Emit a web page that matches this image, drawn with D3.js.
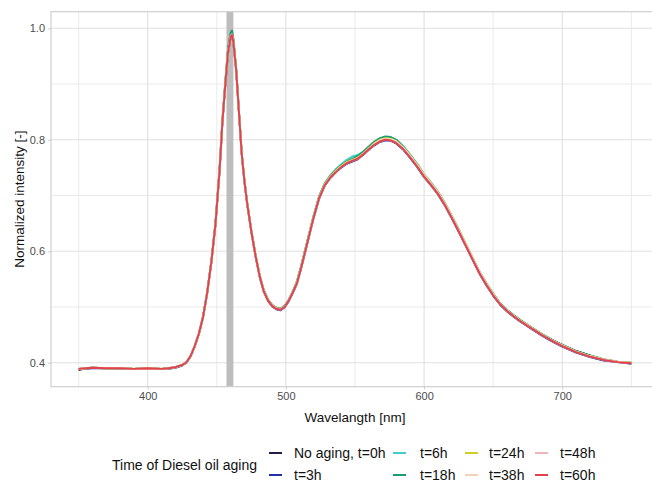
<!DOCTYPE html>
<html><head><meta charset="utf-8">
<script src="https://cdn.jsdelivr.net/npm/d3@7"></script>
<style>body{margin:0;background:#fff}svg{display:block;font-family:"Liberation Sans",Arial,sans-serif}</style>
</head><body>
<svg id="c" width="652" height="483"></svg>
<script>
const wavelength = [350,355,360,370,380,390,400,410,415,420,425,428,431,434,437,440,443,446,449,452,454,456,458,460,461,462,464,466,468,470,472,475,478,481,484,487,490,493,496,499,502,505,508,511,514,517,520,524,528,532,536,540,544,548,552,556,560,564,568,572,576,580,585,590,595,600,605,610,615,620,625,630,635,640,645,650,655,660,665,670,675,680,685,690,695,700,710,720,730,740,750];

const t0h  = [.387,.390,.391,.390,.390,.389,.390,.389,.390,.392,.396,.401,.412,.430,.452,.482,.525,.580,.648,.745,.830,.895,.955,.986,.990,.976,.926,.851,.776,.726,.686,.636,.593,.556,.529,.513,.503,.498,.496,.501,.512,.527,.544,.571,.601,.631,.661,.696,.719,.733,.743,.752,.759,.763,.767,.775,.784,.792,.798,.801,.800,.795,.784,.769,.753,.735,.720,.704,.684,.661,.637,.612,.587,.562,.541,.522,.506,.494,.484,.475,.467,.459,.451,.444,.438,.432,.421,.413,.406,.402,.399];
const t3h  = [.389,.389,.390,.390,.389,.389,.389,.389,.389,.391,.395,.400,.411,.429,.451,.481,.524,.579,.647,.744,.829,.894,.954,.984,.987,.974,.924,.849,.774,.724,.684,.634,.591,.554,.527,.511,.501,.496,.494,.499,.510,.525,.542,.569,.599,.629,.659,.694,.717,.731,.741,.750,.757,.761,.765,.773,.782,.790,.796,.799,.798,.793,.782,.767,.751,.733,.718,.702,.682,.659,.635,.610,.585,.560,.539,.520,.504,.492,.482,.473,.465,.457,.449,.442,.435,.429,.418,.410,.404,.401,.398];
const t6h  = [.389,.390,.391,.390,.390,.389,.390,.389,.390,.392,.396,.401,.412,.430,.452,.482,.526,.581,.650,.748,.833,.899,.960,.990,.992,.978,.927,.851,.776,.726,.686,.636,.593,.556,.529,.513,.503,.498,.496,.501,.512,.528,.546,.574,.604,.634,.664,.699,.722,.736,.747,.756,.764,.770,.773,.778,.786,.793,.799,.803,.802,.796,.785,.770,.754,.736,.721,.705,.685,.662,.638,.613,.588,.563,.542,.523,.506,.494,.484,.475,.467,.459,.451,.444,.437,.431,.420,.412,.406,.402,.400];
const t18h = [.389,.390,.391,.390,.390,.389,.390,.389,.390,.392,.396,.401,.412,.430,.452,.482,.526,.582,.651,.749,.835,.901,.962,.992,.996,.982,.929,.852,.777,.727,.687,.637,.594,.557,.530,.514,.504,.499,.497,.502,.513,.528,.546,.573,.603,.633,.663,.698,.721,.735,.745,.754,.761,.766,.771,.779,.788,.797,.803,.806,.805,.800,.788,.773,.757,.738,.723,.707,.687,.664,.640,.614,.589,.564,.543,.524,.507,.495,.485,.476,.468,.460,.452,.445,.438,.432,.421,.413,.406,.402,.400];
const t24h = [.389,.390,.391,.390,.390,.389,.390,.389,.390,.392,.396,.401,.412,.430,.452,.482,.525,.580,.648,.746,.831,.896,.956,.986,.989,.976,.926,.851,.776,.726,.686,.636,.593,.556,.529,.513,.503,.498,.496,.501,.512,.527,.545,.572,.602,.632,.662,.697,.720,.734,.744,.753,.760,.764,.768,.776,.785,.794,.800,.803,.802,.797,.786,.771,.755,.737,.722,.706,.686,.663,.638,.614,.589,.563,.542,.523,.506,.494,.484,.475,.467,.459,.451,.444,.437,.431,.420,.412,.406,.402,.400];
const t38h = [.389,.390,.391,.390,.390,.389,.390,.389,.390,.392,.396,.401,.412,.430,.452,.482,.525,.580,.648,.746,.831,.896,.956,.986,.989,.976,.926,.851,.776,.726,.686,.636,.593,.556,.529,.513,.503,.498,.496,.501,.512,.527,.544,.571,.601,.631,.661,.696,.719,.733,.743,.752,.759,.763,.767,.775,.784,.793,.799,.802,.801,.797,.786,.771,.755,.737,.722,.706,.686,.663,.639,.614,.589,.564,.542,.523,.506,.494,.484,.475,.467,.459,.451,.444,.437,.431,.420,.412,.406,.402,.400];
const t48h = [.389,.390,.391,.390,.390,.389,.390,.389,.390,.392,.396,.401,.412,.430,.452,.482,.525,.580,.648,.745,.830,.895,.955,.985,.988,.975,.925,.850,.775,.725,.685,.635,.592,.555,.528,.512,.502,.497,.495,.500,.511,.526,.543,.570,.600,.630,.660,.695,.718,.732,.742,.751,.758,.762,.766,.774,.783,.791,.797,.800,.799,.794,.783,.768,.752,.734,.719,.703,.683,.660,.636,.611,.586,.561,.540,.521,.505,.493,.483,.474,.466,.458,.450,.443,.436,.430,.419,.411,.405,.401,.399];
const t60h = [.389,.390,.391,.390,.390,.389,.390,.389,.390,.392,.396,.401,.412,.430,.452,.482,.525,.580,.648,.745,.830,.895,.955,.985,.988,.975,.925,.850,.775,.725,.685,.635,.592,.555,.528,.512,.502,.497,.495,.500,.511,.526,.543,.570,.600,.630,.660,.695,.718,.732,.742,.751,.758,.762,.766,.774,.783,.791,.797,.800,.799,.794,.783,.768,.752,.734,.719,.703,.683,.660,.636,.611,.586,.561,.540,.521,.505,.493,.483,.474,.466,.458,.450,.443,.436,.430,.419,.411,.405,.401,.399];

const seriesNames  = ["No aging, t=0h","t=3h","t=6h","t=18h","t=24h","t=38h","t=48h","t=60h"];
const seriesValues = [t0h,t3h,t6h,t18h,t24h,t38h,t48h,t60h];
const seriesColors = ["#1f1d4a","#2230a8","#3fcfc6","#1c9b74","#cfcf22","#f3d3b3","#efb6b6","#e2434b"];
const xTicks = [400,500,600,700];
const yTicks = [0.4,0.6,0.8,1.0];
const band = [457,462];

const svg = d3.select("#c");
const L=51, T=11.7, R=659, B=386.7;
const x = d3.scaleLinear().domain([330,770]).range([L,R]);
const y = d3.scaleLinear().domain([0.357,1.0298]).range([B,T]);

svg.append("defs").append("clipPath").attr("id","clip")
  .append("rect").attr("x",L).attr("y",T).attr("width",R-L).attr("height",B-T);

const g = svg.append("g");
const xMinor = d3.range(350,800,100), yMinor = [0.5,0.7,0.9];
g.selectAll(".xm").data(xMinor).join("line").attr("x1",d=>x(d)).attr("x2",d=>x(d)).attr("y1",T).attr("y2",B)
  .attr("stroke","#e8e8e8").attr("stroke-width",0.9);
g.selectAll(".ym").data(yMinor).join("line").attr("y1",d=>y(d)).attr("y2",d=>y(d)).attr("x1",L).attr("x2",R)
  .attr("stroke","#e8e8e8").attr("stroke-width",0.9);
g.selectAll(".xg").data(xTicks).join("line").attr("x1",d=>x(d)).attr("x2",d=>x(d)).attr("y1",T).attr("y2",B)
  .attr("stroke","#e0e0e0").attr("stroke-width",1.1);
g.selectAll(".yg").data(yTicks).join("line").attr("y1",d=>y(d)).attr("y2",d=>y(d)).attr("x1",L).attr("x2",R)
  .attr("stroke","#e0e0e0").attr("stroke-width",1.1);

g.append("rect").attr("x",x(band[0])).attr("width",x(band[1])-x(band[0])).attr("y",T).attr("height",B-T)
  .attr("fill","#bdbdbd");

const line = d3.line().x((d,i)=>x(wavelength[i])).y(d=>y(d));
const lg = g.append("g").attr("clip-path","url(#clip)");
seriesValues.forEach((vals,k)=>{
  lg.append("path").attr("d",line(vals)).attr("fill","none")
    .attr("stroke",seriesColors[k]).attr("stroke-width",1.9).attr("stroke-linejoin","round");
});

svg.append("rect").attr("x",L).attr("y",T).attr("width",R-L).attr("height",B-T)
  .attr("fill","none").attr("stroke","#cfcfcf").attr("stroke-width",1.2);

const xAxis = d3.axisBottom(x).tickValues(xTicks).tickSize(3).tickPadding(3).tickFormat(d3.format("d"));
const xa = svg.append("g").attr("transform",`translate(0,${B})`).call(xAxis);
const yAxis = d3.axisLeft(y).tickValues(yTicks).tickSize(3).tickPadding(3).tickFormat(d3.format(".1f"));
const ya = svg.append("g").attr("transform",`translate(${L},0)`).call(yAxis);
[xa,ya].forEach(a=>{
  a.select(".domain").remove();
  a.selectAll(".tick line").attr("stroke","#c4c4c4").attr("stroke-width",0.8);
  a.selectAll(".tick text").attr("fill","#4d4d4d").style("font-size","11px").style("font-family","Liberation Sans, Arial, sans-serif");
});

svg.append("text").attr("x",(L+R)/2).attr("y",417).attr("text-anchor","middle").attr("dominant-baseline","central")
  .style("font-size","13.5px").attr("fill","#111").text("Wavelangth [nm]");
svg.append("text").attr("transform",`translate(19,${(T+B)/2}) rotate(-90)`).attr("text-anchor","middle")
  .attr("dominant-baseline","central").style("font-size","13.5px").attr("fill","#111").text("Normalized intensity [-]");

svg.append("text").attr("x",112).attr("y",465).attr("dominant-baseline","central")
  .style("font-size","14px").attr("fill","#111").text("Time of Diesel oil aging");
const colKeyX = [269,393,465,535], colTextX = [294,420,489,560], rowY = [453,475];
seriesNames.forEach((name,k)=>{
  const col = Math.floor(k/2), row = k%2;
  svg.append("line").attr("x1",colKeyX[col]).attr("x2",colKeyX[col]+13).attr("y1",rowY[row]).attr("y2",rowY[row])
    .attr("stroke",seriesColors[k]).attr("stroke-width",2);
  svg.append("text").attr("x",colTextX[col]).attr("y",rowY[row]).attr("dominant-baseline","central")
    .style("font-size","14px").attr("fill","#111").text(name);
});
</script>
</body></html>
